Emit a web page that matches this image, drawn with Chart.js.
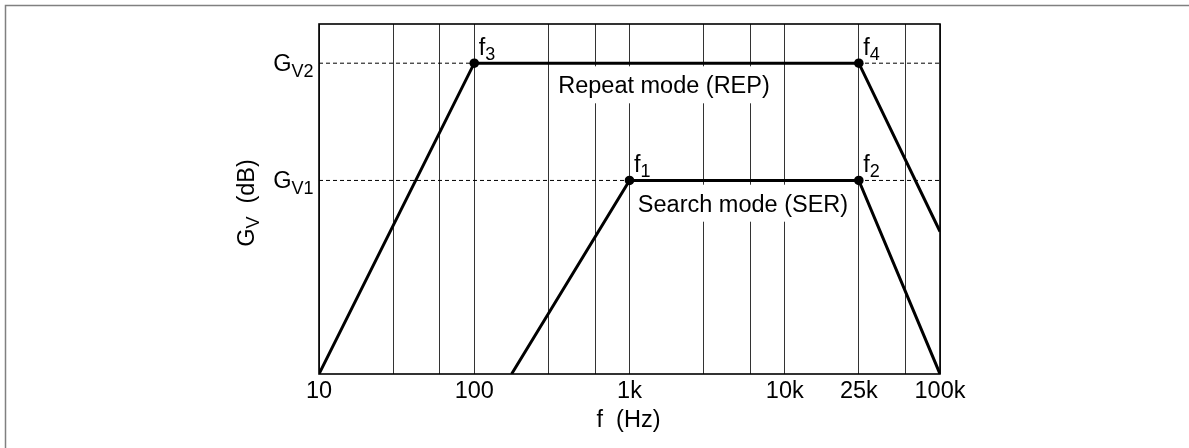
<!DOCTYPE html>
<html>
<head>
<meta charset="utf-8">
<script src="https://cdn.jsdelivr.net/npm/chart.js@4.4.1/dist/chart.umd.min.js"></script>
<style>
  html, body { margin: 0; padding: 0; background: #fff; }
  #wrap { position: relative; width: 1189px; height: 448px; }
</style>
</head>
<body>
<div id="wrap"><canvas id="c" width="1189" height="448"></canvas></div>
<script>
// ---- data ----
const gridFreqs  = [10, 30, 60, 100, 300, 600, 1000, 3000, 6000, 10000, 30000, 60000, 100000];
const tickLabels = ['10', '', '', '100', '', '', '1k', '', '', '10k', '25k', '', '100k'];

const freqREP = [10, 100, 30000, 100000];
const gainREP = [0, 88.8, 88.8, 40.7];
const markREP = ['', '3', '4', ''];          // f3, f4

const freqSER = [174, 1000, 30000, 100000];
const gainSER = [0, 55.3, 55.3, 0];
const markSER = ['', '1', '2', ''];          // f1, f2

const levelValues = [88.8, 55.3];
const levelNames  = ['V2', 'V1'];

const FONT = '"Liberation Sans", Arial, Helvetica, sans-serif';
const MAIN = 23.5, SUB = 18;

function pts(xs, ys) { return xs.map((x, i) => ({ x: x, y: ys[i] })); }
function radii(marks) { return marks.map(m => m ? 4.8 : 0); }

function drawParts(ctx, parts, x, y) {
  let cx = x;
  for (const p of parts) {
    ctx.font = p.size + 'px ' + FONT;
    ctx.fillText(p.t, cx, y + (p.dy || 0));
    cx += ctx.measureText(p.t).width;
  }
  return cx - x;
}
function partsWidth(ctx, parts) {
  let w = 0;
  for (const p of parts) { ctx.font = p.size + 'px ' + FONT; w += ctx.measureText(p.t).width; }
  return w;
}

const annot = {
  id: 'annot',
  beforeDatasetsDraw(chart) {
    const ctx = chart.ctx;
    ctx.save();
    ctx.font = MAIN + 'px ' + FONT;
    ctx.textBaseline = 'alphabetic';
    ctx.textAlign = 'left';
    const boxes = [
      { t: 'Repeat mode (REP)', cx: 664, base: 93.3 },
      { t: 'Search mode (SER)', cx: 743, base: 211.7 }
    ];
    for (const b of boxes) {
      const w = ctx.measureText(b.t).width;
      ctx.fillStyle = '#fff';
      ctx.fillRect(b.cx - w / 2 - 7, b.base - 27, w + 14, 37);
      ctx.fillStyle = '#000';
      ctx.fillText(b.t, b.cx - w / 2, b.base);
    }
    ctx.restore();
  },
  afterDatasetsDraw(chart) {
    const ctx = chart.ctx;
    const xs = chart.scales.x, ys = chart.scales.y;
    const a = chart.chartArea;
    ctx.save();
    // plot frame
    ctx.strokeStyle = '#000';
    ctx.lineWidth = 1.6;
    ctx.strokeRect(a.left, a.top, a.right - a.left, a.bottom - a.top);

    ctx.fillStyle = '#000';
    ctx.textBaseline = 'alphabetic';
    // point labels f1..f4
    const series = [[freqREP, gainREP, markREP], [freqSER, gainSER, markSER]];
    for (const [fx, gy, mk] of series) {
      mk.forEach((m, i) => {
        if (!m) return;
        const px = xs.getPixelForValue(fx[i]);
        const py = ys.getPixelForValue(gy[i]);
        ctx.font = MAIN + 'px ' + FONT;
        ctx.fillText('f', px + 4.5, py - 8);
        const fw = ctx.measureText('f').width;
        ctx.font = SUB + 'px ' + FONT;
        ctx.fillText(m, px + 4.5 + fw, py - 3);
      });
    }
    // level labels G_V2, G_V1
    levelValues.forEach((v, i) => {
      const py = ys.getPixelForValue(v);
      const parts = [{ t: 'G', size: MAIN, dy: 0 }, { t: levelNames[i], size: SUB, dy: 5.5 }];
      const w = partsWidth(ctx, parts);
      drawParts(ctx, parts, a.left - 5.5 - w, py + 8);
    });
    // x title
    ctx.font = MAIN + 'px ' + FONT;
    ctx.textAlign = 'center';
    ctx.fillText('f  (Hz)', (a.left + a.right) / 2 - 1, 426.5);
    ctx.textAlign = 'left';
    // y title rotated
    const yparts = [{ t: 'G', size: MAIN, dy: 0 }, { t: 'V', size: SUB, dy: 5 }, { t: '  (dB)', size: MAIN, dy: 0 }];
    const yw = partsWidth(ctx, yparts);
    ctx.translate(254, 203);
    ctx.rotate(-Math.PI / 2);
    drawParts(ctx, yparts, -yw / 2, 0);
    ctx.restore();

    // outer frame (top and left edges)
    ctx.save();
    ctx.strokeStyle = '#808080';
    ctx.lineWidth = 1.5;
    ctx.beginPath();
    ctx.moveTo(5.5, 448);
    ctx.lineTo(5.5, 5.5);
    ctx.lineTo(1189, 5.5);
    ctx.stroke();
    ctx.restore();
  }
};

new Chart(document.getElementById('c'), {
  type: 'scatter',
  data: {
    datasets: [
      { label: 'REP', data: pts(freqREP, gainREP), showLine: true, borderColor: '#000', backgroundColor: '#000',
        borderWidth: 3, pointRadius: radii(markREP), pointBorderWidth: 0, pointBackgroundColor: '#000', order: 1 },
      { label: 'SER', data: pts(freqSER, gainSER), showLine: true, borderColor: '#000', backgroundColor: '#000',
        borderWidth: 3, pointRadius: radii(markSER), pointBorderWidth: 0, pointBackgroundColor: '#000', order: 1 },
      { label: 'GV2', data: pts([10, 100000], [levelValues[0], levelValues[0]]), showLine: true, borderColor: '#000',
        borderWidth: 1, borderDash: [4, 3], pointRadius: 0, order: 5 },
      { label: 'GV1', data: pts([10, 100000], [levelValues[1], levelValues[1]]), showLine: true, borderColor: '#000',
        borderWidth: 1, borderDash: [4, 3], pointRadius: 0, order: 5 }
    ]
  },
  options: {
    responsive: false,
    animation: false,
    devicePixelRatio: 1,
    layout: { padding: { left: 319, right: 249, top: 24, bottom: 0 } },
    plugins: { legend: { display: false }, tooltip: { enabled: false } },
    scales: {
      x: {
        type: 'logarithmic',
        min: 10, max: 100000,
        afterBuildTicks: s => { s.ticks = gridFreqs.map(v => ({ value: v })); },
        afterFit: s => { s.height = 74; },
        grid: { display: true, color: '#333', lineWidth: 1, drawTicks: false },
        border: { display: false },
        ticks: {
          autoSkip: false, maxRotation: 0, padding: 3, color: '#000',
          font: { family: FONT, size: MAIN },
          callback: (v, i) => tickLabels[gridFreqs.indexOf(v)] ?? ''
        }
      },
      y: {
        type: 'linear', min: 0, max: 100, display: false
      }
    }
  },
  plugins: [annot]
});
</script>
</body>
</html>
